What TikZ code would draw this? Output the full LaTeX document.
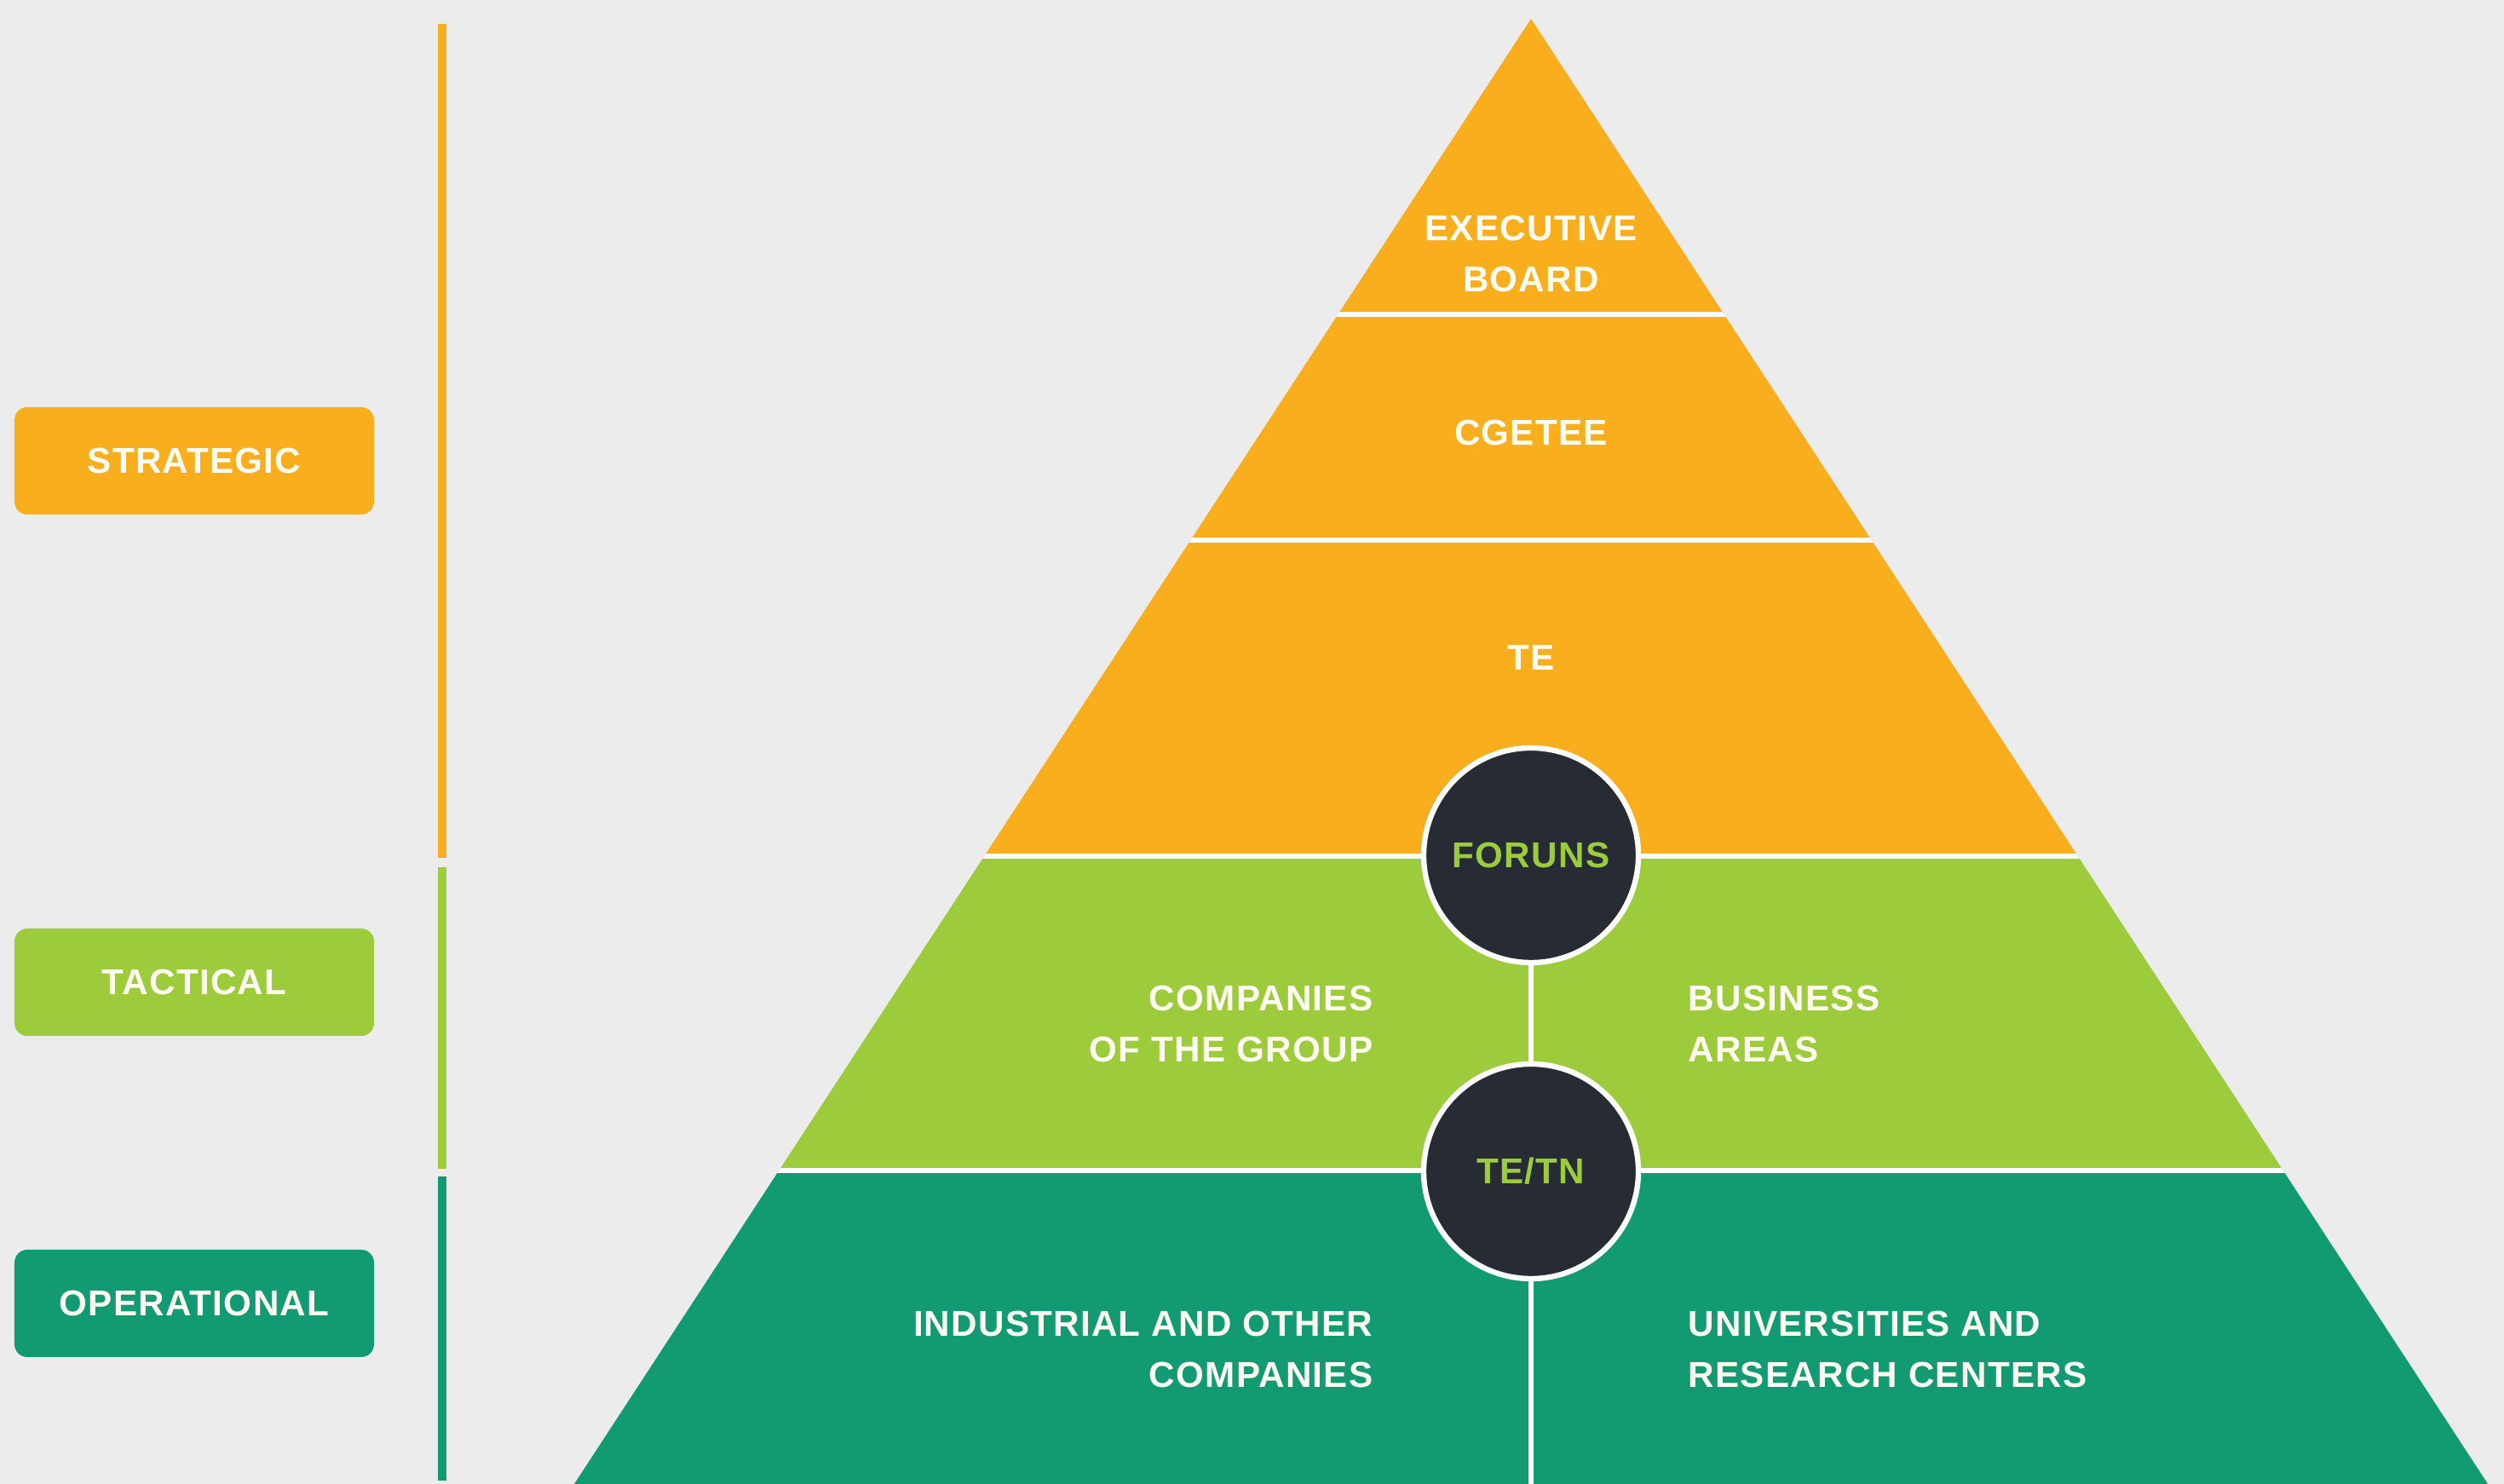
\documentclass[tikz,border=0pt]{standalone}
\usepackage{fontspec}
\setmainfont{Liberation Sans}[LetterSpace=3]
\usepackage{xcolor}
\usepackage{tikz}
\usetikzlibrary{positioning}
\definecolor{figOrange}{HTML}{F9AE1D}
\definecolor{figLime}{HTML}{9CCB3B}
\definecolor{figTeal}{HTML}{129B73}
\definecolor{figDark}{HTML}{272B33}
\definecolor{figBack}{HTML}{ECECEC}
\definecolor{figText}{HTML}{FFFDF2}

\begin{document}
\begin{tikzpicture}[
  every node/.style={font=\fontsize{12}{17}\selectfont\bfseries},
  tier/.style={text=figText, align=center, inner sep=0pt},
  level/.style={rectangle, rounded corners=1.5mm, fill=#1, text=figText,
    minimum width=42.2mm, minimum height=12.6mm, inner sep=0pt},
  level/.default=figOrange,
  hub/.style={circle, fill=figDark, draw=white, line width=1.8pt,
    minimum size=25.2mm, inner sep=0pt, text=figLime},
  sep/.style={white, line width=1.6pt},
  bar/.style={line width=2.7pt, #1},
]
\useasboundingbox (0,0) rectangle (29.39,17.42);
\fill[figBack] (0,0) rectangle (29.39,17.42);

% === Pyramid ===
\begin{scope}
  \clip (6.74,0) -- (17.97,17.20) -- (29.20,0) -- cycle;
  \fill[figTeal] (0,0) rectangle (29.39,3.68);
  \fill[figLime] (0,3.68) rectangle (29.39,7.37);
  \fill[figOrange] (0,7.37) rectangle (29.39,17.42);
  \draw[sep] (0,13.73) -- (29.39,13.73);
  \draw[sep] (0,11.08) -- (29.39,11.08);
  \draw[sep] (0,7.37) -- (29.39,7.37);
  \draw[sep] (0,3.68) -- (29.39,3.68);
\end{scope}

\node[tier] (exec) at (17.97,14.44) {EXECUTIVE\\BOARD};
\node[tier] (cgetee) at (17.97,12.34) {CGETEE};
\node[tier] (te) at (17.97,9.70) {TE};

\node[tier, anchor=east, align=right] (group) at (16.12,5.40) {COMPANIES\\OF THE GROUP};
\node[tier, anchor=west, align=left] (business) at (19.81,5.40) {BUSINESS\\AREAS};
\node[tier, anchor=east, align=right] (industry) at (16.12,1.58) {INDUSTRIAL AND OTHER\\COMPANIES};
\node[tier, anchor=west, align=left] (univ) at (19.81,1.58) {UNIVERSITIES AND\\RESEARCH CENTERS};

% hubs on the centre line
\node[hub] (forums) at (17.97,7.38) {FORUNS};
\node[hub] (tetn) at (17.97,3.67) {TE/TN};
\coordinate (base) at (17.97,0);

\draw[sep] (forums) -- (tetn);
\draw[sep] (tetn) -- (base);

% === Levels (left) ===
\node[level] (strategic) at (2.28,12.01) {STRATEGIC};
\node[level=figLime] (tactical) at (2.28,5.89) {TACTICAL};
\node[level=figTeal] (operational) at (2.28,2.12) {OPERATIONAL};

\draw[bar=figOrange] (5.19,17.14) -- (5.19,7.35);
\draw[bar=figLime] (5.19,7.24) -- (5.19,3.70);
\draw[bar=figTeal] (5.19,3.61) -- (5.19,0.04);
\end{tikzpicture}
\end{document}
